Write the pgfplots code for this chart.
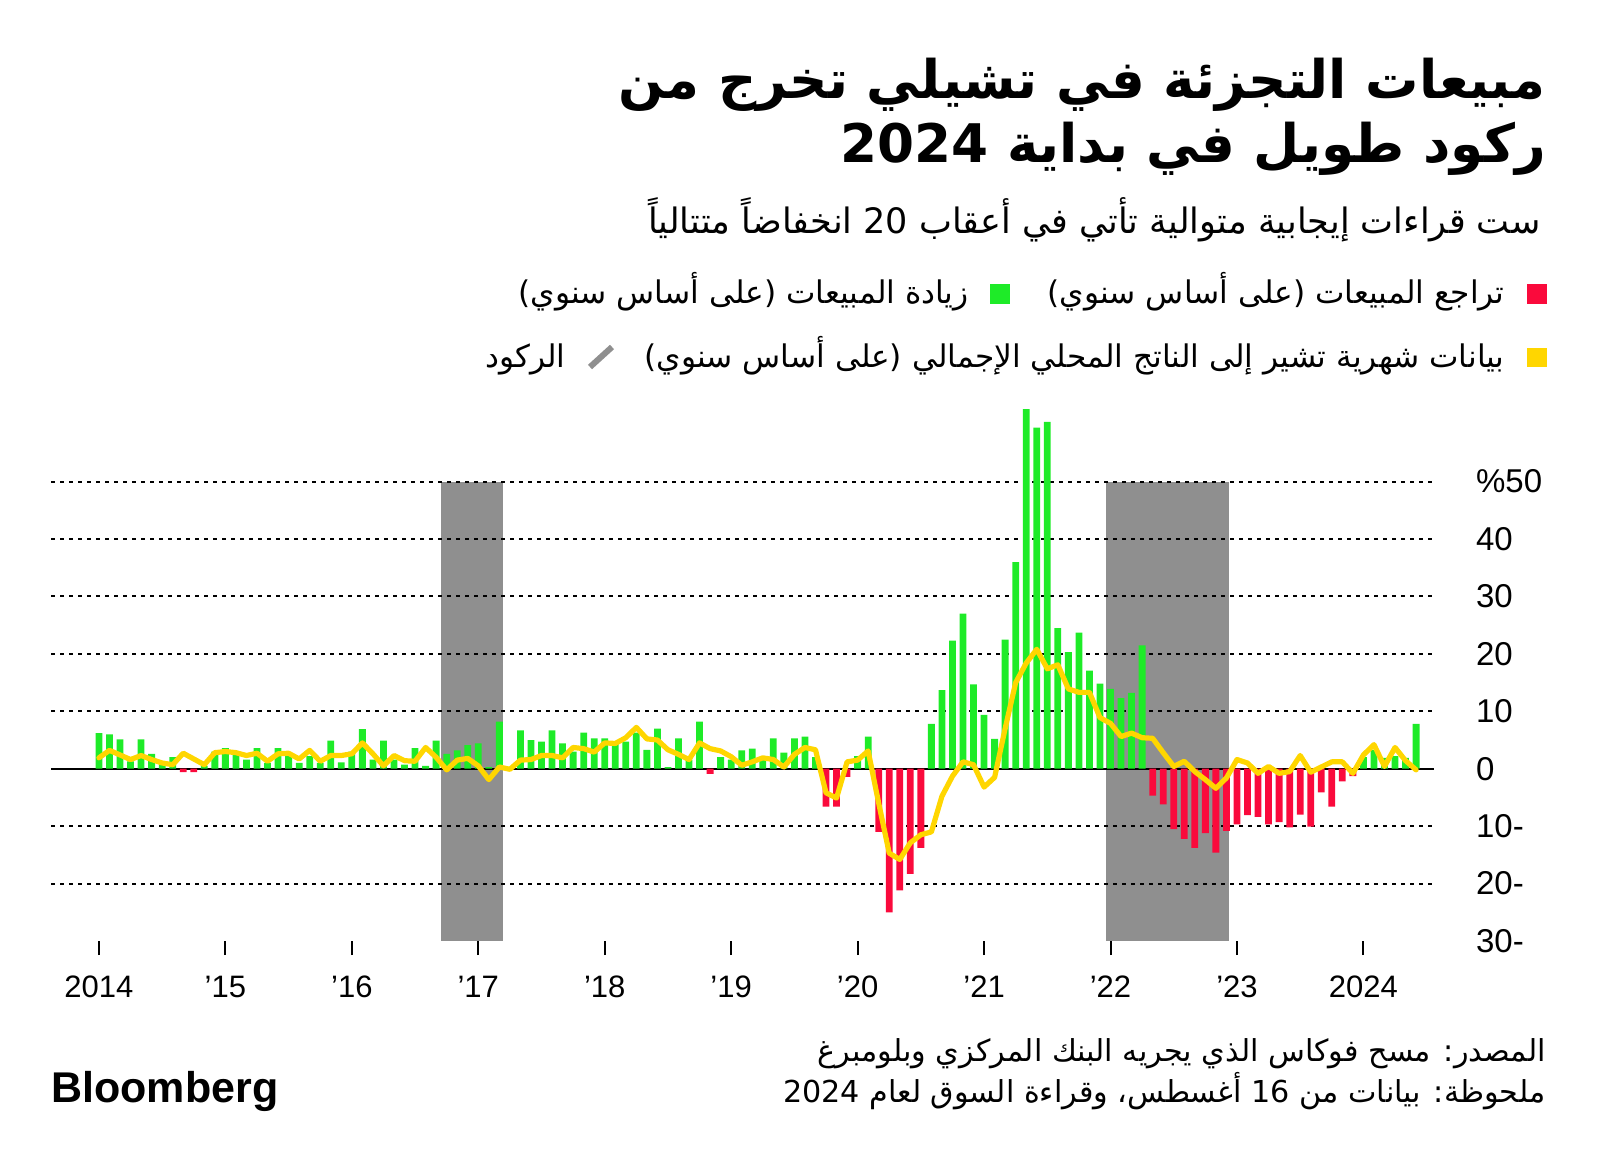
\documentclass[border=0pt]{standalone}
\usepackage{fontspec}
\usepackage{pgfplots}
\usepackage{pgfplotstable}
\pgfplotsset{compat=1.18}
\setmainfont{Liberation Sans}
\newfontfamily\arabicfont[Script=Arabic]{DejaVu Sans}
\TeXXeTstate=1
\definecolor{sred}{RGB}{250,10,60}
\definecolor{sgreen}{RGB}{30,235,40}
\definecolor{sgold}{RGB}{255,214,0}
\definecolor{recgray}{RGB}{143,143,143}
\pgfplotstableread{
i s g
0 6.2 1.9
1 6.0 3.2
2 5.1 2.4
3 1.3 1.6
4 5.1 2.3
5 2.6 1.6
6 1.0 1.0
7 2.0 0.7
8 -0.6 2.7
9 -0.6 1.7
10 0.5 0.7
11 3.0 2.8
12 3.6 3.0
13 2.4 2.8
14 1.6 2.3
15 3.6 2.7
16 1.0 1.3
17 3.6 2.6
18 2.2 2.7
19 1.0 1.7
20 2.2 3.2
21 1.0 1.3
22 4.9 2.3
23 1.1 2.3
24 3.0 2.6
25 6.9 4.5
26 1.6 2.6
27 4.9 0.5
28 1.6 2.3
29 0.7 1.4
30 3.6 1.3
31 0.5 3.7
32 4.9 2.0
33 2.6 -0.2
34 3.2 1.5
35 4.1 1.8
36 4.4 0.5
37 0.3 -1.9
38 8.2 0.3
39 0.1 -0.1
40 6.7 1.5
41 5.0 1.6
42 4.7 2.3
43 6.7 2.3
44 4.4 1.9
45 3.0 3.7
46 6.3 3.5
47 5.3 2.9
48 5.3 4.5
49 4.7 4.4
50 4.7 5.4
51 6.3 7.2
52 3.3 5.2
53 7.0 5.0
54 0.3 3.3
55 5.3 2.5
56 1.6 1.6
57 8.2 4.5
58 -0.9 3.5
59 2.0 3.1
60 1.6 2.1
61 3.2 0.6
62 3.5 1.2
63 1.5 1.9
64 5.3 1.6
65 2.8 0.3
66 5.3 2.5
67 5.6 3.7
68 2.0 3.3
69 -6.6 -4.2
70 -6.6 -5.1
71 -1.4 1.2
72 2.2 1.5
73 5.6 3.1
74 -11.0 -6.0
75 -25.0 -14.7
76 -21.2 -15.8
77 -18.3 -12.9
78 -13.8 -11.5
79 7.8 -11.0
80 13.7 -4.8
81 22.3 -1.3
82 27.0 1.2
83 14.7 0.7
84 9.4 -3.2
85 5.2 -1.5
86 22.5 7.0
87 36.0 15.0
88 62.6 18.4
89 59.4 20.8
90 60.4 17.4
91 24.5 18.1
92 20.3 13.9
93 23.7 13.3
94 17.1 13.3
95 14.8 8.9
96 13.9 7.9
97 12.3 5.6
98 13.2 6.2
99 21.5 5.4
100 -4.7 5.3
101 -6.2 2.8
102 -10.5 0.4
103 -12.2 1.3
104 -13.8 -0.5
105 -11.2 -1.9
106 -14.6 -3.4
107 -10.8 -1.6
108 -9.7 1.6
109 -8.1 1.0
110 -8.4 -0.8
111 -9.7 0.4
112 -9.3 -0.8
113 -10.2 -0.5
114 -8.0 2.3
115 -10.1 -0.6
116 -4.1 0.3
117 -6.6 1.2
118 -2.2 1.2
119 -1.3 -0.8
120 2.0 2.4
121 3.3 4.2
122 1.9 0.4
123 2.2 3.7
124 1.9 1.4
125 7.8 -0.2
}\data
\begin{document}
\begin{tikzpicture}
\path[use as bounding box] (0,0) rectangle (800pt,-583pt);
% titles
\node[anchor=base east, inner sep=0pt] at (773pt,-49.5pt) {\arabicfont\bfseries\fontsize{26.6}{32}\selectfont\beginR مبيعات التجزئة في تشيلي تخرج من\endR};
\node[anchor=base east, inner sep=0pt] at (773pt,-81.5pt) {\arabicfont\bfseries\fontsize{26.6}{32}\selectfont\beginR ركود طويل في بداية 2024\endR};
\node[anchor=base east, inner sep=0pt] at (770.5pt,-117pt) {\arabicfont\fontsize{17.5}{20}\selectfont\beginR ست قراءات إيجابية متوالية تأتي في أعقاب 20 انخفاضاً متتالياً\endR};
% legend
\fill[sred] (763.5pt,-142pt) rectangle (773.5pt,-152pt);
\node[anchor=base east, inner sep=0pt] at (752.5pt,-151.5pt) {\arabicfont\fontsize{15.6}{18}\selectfont\beginR تراجع المبيعات (على أساس سنوي)\endR};
\fill[sgreen] (495pt,-142pt) rectangle (505pt,-152pt);
\node[anchor=base east, inner sep=0pt] at (484.5pt,-151.5pt) {\arabicfont\fontsize{15.6}{18}\selectfont\beginR زيادة المبيعات (على أساس سنوي)\endR};
\fill[sgold] (763.5pt,-174pt) rectangle (773.5pt,-183.5pt);
\node[anchor=base east, inner sep=0pt] at (752.5pt,-183.5pt) {\arabicfont\fontsize{15.6}{18}\selectfont\beginR بيانات شهرية تشير إلى الناتج المحلي الإجمالي (على أساس سنوي)\endR};
\draw[recgray, line width=3pt] (295pt,-183.5pt) -- (306pt,-173.5pt);
\node[anchor=base east, inner sep=0pt] at (283pt,-183.5pt) {\arabicfont\fontsize{15.6}{18}\selectfont\beginR الركود\endR};
% footer
\node[anchor=base east, inner sep=0pt] at (773pt,-530.5pt) {\arabicfont\fontsize{15.1}{18}\selectfont\beginR المصدر: مسح فوكاس الذي يجريه البنك المركزي وبلومبرغ\endR};
\node[anchor=base east, inner sep=0pt] at (773pt,-551pt) {\arabicfont\fontsize{15.1}{18}\selectfont\beginR ملحوظة: بيانات من 16 أغسطس، وقراءة السوق لعام 2024\endR};
\node[anchor=base west, inner sep=0pt] at (25.5pt,-551pt) {\bfseries\fontsize{21.5}{24}\selectfont Bloomberg};
\begin{axis}[
  at={(25.5pt,-470.5pt)}, anchor=south west,
  width=691.5pt, height=229.7pt, scale only axis,
  xmin=-4.55, xmax=126.7, ymin=-30, ymax=50,
  clip=false,
  axis line style={draw=none},
  ytick={-30,-20,...,50},
  yticklabels={30-,20-,10-,0,10,20,30,40,\%50},
  yticklabel pos=right,
  ytick style={draw=none},
  xtick={0,12,...,120},
  xtick pos=bottom,
  xticklabels={2014,'15,'16,'17,'18,'19,'20,'21,'22,'23,2024},
  xtick style={black, line width=1pt},
  tick align=outside, major tick length=7pt,
  xticklabel style={font=\fontsize{15.5}{18}\selectfont, yshift=-7pt},
  yticklabel style={font=\fontsize{16.5}{19}\selectfont, anchor=west, xshift=10.5pt},
]
\addplot[fill=recgray, draw=none] coordinates {(32.5,-30) (32.5,50) (38.3,50) (38.3,-30)};
\addplot[fill=recgray, draw=none] coordinates {(95.6,-30) (95.6,50) (107.2,50) (107.2,-30)};
\pgfplotsinvokeforeach{-20,-10,10,20,30,40,50}{
  \addplot[black, line width=1pt, dash pattern=on 2pt off 2.5pt] coordinates {(-4.55,#1) (126.7,#1)};
}
\addplot[black, line width=1.2pt] coordinates {(-4.55,0) (126.7,0)};
\addplot[ybar, bar width=3.4pt, bar shift=0pt, fill=sgreen, draw=none, restrict y to domain=0:100] table[x=i, y=s] {\data};
\addplot[ybar, bar width=3.4pt, bar shift=0pt, fill=sred, draw=none, restrict y to domain=-100:0] table[x=i, y=s] {\data};
\addplot[sgold, line width=2.6pt, line join=round, line cap=round] table[x=i, y=g] {\data};
\end{axis}
\end{tikzpicture}
\end{document}
